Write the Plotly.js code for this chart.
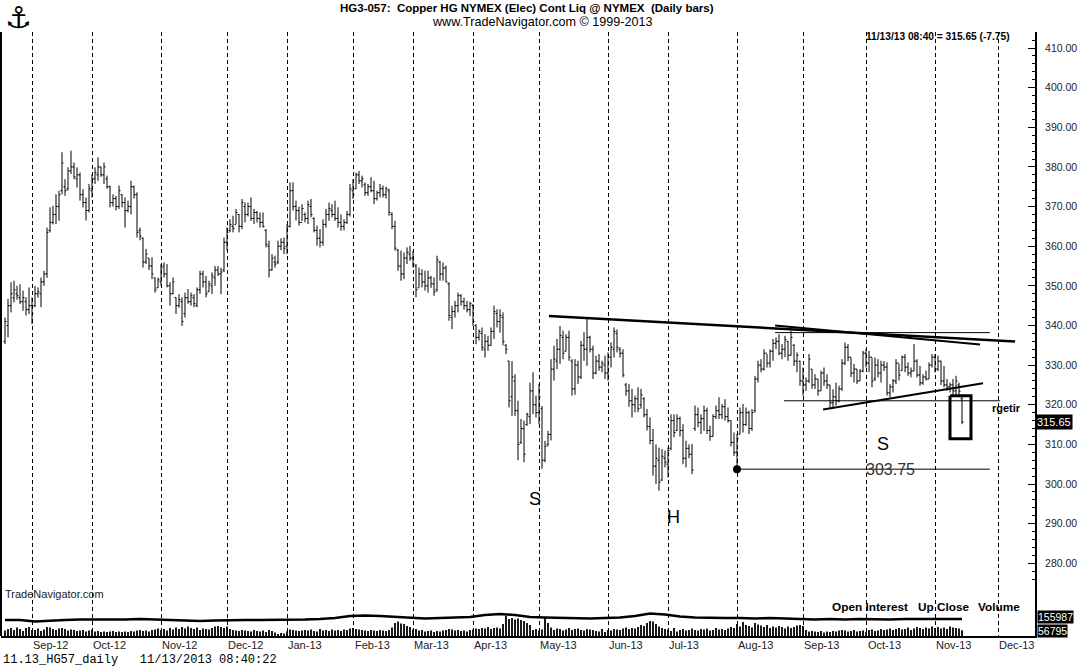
<!DOCTYPE html>
<html>
<head>
<meta charset="utf-8">
<script src="https://cdn.plot.ly/plotly-3.0.1.min.js"></script>
<style>html,body{margin:0;padding:0;background:#fff;}#chart{width:1084px;height:667px;}</style>
</head>
<body>
<div id="chart"></div>
<script>
// ---- Daily OHLC bars (trading-day order, Aug 20 2012 .. Nov 13 2013) ----
const openP = [
336,340,345,347,348,347,346,346,344,345,
345,348,348,351,353,364,366,368,370,374,
375,374.5,379,380,377,378,373,371,369,374,
377,378,380,378,377,375,371,372,370,373,
371,369,370,375,373,364,362,356,357,355,
352,349.5,351,355,353,350,348,347,345,346,
343,347,346,347,345,349,353,351,348.5,350,
352,354,353,354,361,364,365,365.5,368,365,
370,368,370,367,368.5,367,366,364,360,354,
356,356,360,361,360,365,374,370,369,366,
368,367,370,367,364,362,361,365.5,368,369,
368,367,366,365,366,368,374,374.5,378,376.5,
375.5,373.5,375,374,372,373.5,374.5,373,374,368,
365,359,355,353,357,358,357,355,349.5,353,
351,350,352,350.5,349,356,353,354.5,350.5,342,
343.5,345,347.5,346,345,344,345,340,337,338,
334,336,335,338.5,343,341,342,335,331,322,
326,318.5,310.5,314,315,317,323.5,320,318,319,
306,310,312.5,329,331,334,337,333.5,337,331,
324,330,327,335,334,337,334,328,331,329.5,
330,328,332,334,338,334,333,325,323.5,321,
320,321.5,320,321.5,317.5,314.5,311,304.5,306,301,
306.5,305,309,316,313.5,316.5,313.5,306.5,309,307.5,
314,317.5,315.5,316.5,318.5,313.5,312,317,318.5,317.5,
319.5,317,316,310.5,308,312.6,318,315,318,314,
318.5,326.5,330,329,333,330.5,333.5,335.5,336,333,
334,336,332.5,335,331,331,326,325,326,329,
325,326.5,323.5,328,326,325,320.5,322,321,324,
330.5,334.5,332,328,329,326,328.5,333,330.5,332,
326.5,330,328,330,329.5,323,324.5,326,330.5,328.6,
332,329.5,328,328.5,331,327.5,325.5,327,326.5,330,
332,329,331,326,325,324.5,325,323.5,325,321.5];
const highP = [
342,346.7,350.9,351.3,350,350.4,348.8,347.1,349.6,347.1,
350,349.6,352.1,353.8,364.7,369.8,370.2,373.1,374,383.7,
376.9,379.9,384.1,381.1,379.9,378.6,374.4,372.3,375.7,378.2,
379.9,382.4,380,381.1,377.8,375.3,373.1,372.7,375.3,373.1,
372.3,371.5,376.5,375.3,373.6,364.7,362.2,359.3,357,357.2,
352.1,352.1,355.5,355.9,355.5,350.9,352.1,347.1,347.9,347.1,
348.3,349.2,348.3,347.9,349.6,353.8,353.8,352.5,351.3,353.4,
355,355,354.6,362.2,364.7,366.8,367.7,369.4,368.1,371.9,
371,371,372.3,369.4,368.9,368.5,368.5,364.3,361.4,358,
357.6,361.4,362,362.2,365.5,376.1,376.1,371.5,370,370.6,
368.5,371.5,371.9,367.3,365.2,364.3,366.8,369.4,371,370.6,
371.5,369.8,368,366.8,368.9,375.7,376.9,378.6,379,377.8,
376.1,375.7,377.4,376.5,374,375.7,375.3,375,374.5,368.5,
366.4,359.3,358.9,358.4,359.7,360.1,358.9,355.5,354.6,354.2,
353.8,353.8,352.5,352.1,357.6,356.3,355.9,355.1,350.9,345,
346.2,348.3,347.9,347,346.2,346,345.4,340.3,339,339.5,
337.8,337.4,339.5,345,344.1,344.1,343.3,335.3,331.1,331,
327.7,321,316.4,316,318,325.6,328.2,322.3,325.2,319.7,
310.9,313.4,331.5,334.9,336.6,339.9,338.7,337.8,338.7,331.5,
331.5,331.1,336.1,338.3,342,337.4,334.9,332.4,332.8,331.1,
332.4,333.2,335.7,339.5,339,334.5,334,325.5,325.2,324,
322.3,324.4,324,321.9,318.9,316.8,313.9,310,309.2,308.8,
308.4,309.2,317.6,317.6,317.6,317,315.1,310.9,310,310.1,
319.8,319.3,317.6,319.8,319.3,314.7,317.6,319.8,321.9,320.2,
321.4,319.3,316,313,312.6,319.3,320.2,319.3,318.5,318.9,
327.3,331.1,331.5,334,332.8,334,336.6,337,337.8,335.3,
337.4,336.1,338.7,335.3,333.2,331.1,329.4,326.9,332.8,329,
327.7,326.5,328.6,329.4,327.7,325,323.9,325.6,324.8,331.5,
335.7,335.3,331.9,330.3,329,329,333.6,334,333.6,331.9,
331.9,331.5,331.1,331,330.7,325.2,326.5,331.5,330.3,332.4,
332.8,330.7,329.4,335.3,331.5,329.8,327.7,328.6,330.7,332.8,
332.8,332.4,331.1,329.8,326.5,325.6,326.5,327.3,325.6,322];
const lowP = [
335.3,337,343.3,345.8,346.5,345.4,343.7,342.5,342.9,340.3,
344.6,347,344.6,350,352,363.5,365.5,365.6,366.4,373.1,
372.7,374,378.2,376.9,374.8,371.5,369.8,366.5,368.5,372.3,
375.7,376.5,377.5,375.7,374.5,369.8,370,369,369.4,369.8,
364.7,368.5,368,372,362.2,361.5,354.6,355.5,354,351.7,
348.3,349.5,350,352.1,349.6,345,347.9,342.9,344.5,339.9,
342,345.5,345,344.6,344.6,348,349.6,347.1,348.5,347.9,
350,352.5,347.9,353.5,358.9,363.5,363.5,365.6,363.5,364.3,
366,367.5,366.4,365.6,366,364.7,364.7,359.7,352.1,353.8,
354.6,355.5,359,358,358,364.7,369,366.5,365.2,366.4,
366,365.6,367.3,363.5,360.1,359.7,360.1,364.7,366.4,367.3,
366.4,364.7,363.9,364,365.6,367.5,371.9,374.4,375.7,374.8,
372.7,372.7,373.6,370.6,371.5,372.3,372.3,372,367.7,364.3,
358.9,353.8,351.3,351.7,355.5,356.3,354.6,347.1,349.6,349.6,
348.8,348.3,349.5,347.5,348.5,351.3,351.3,350.9,341.2,339.1,
342,343.3,345,344,343.3,342.4,339.9,335.3,336.2,333.6,
331.9,333.6,334.9,336.6,339.5,338.2,335,332.8,319.3,317.2,
317.2,306,310.1,305.5,314.7,315.1,317.6,316.8,315.1,303.8,
305.5,309.5,311,326.1,329,330.3,331.5,333.5,331.1,322.3,
322.5,325.2,326.5,331.1,329.8,333.2,326.5,327.7,328.6,328.2,
326.5,326.1,329.4,331.9,333.2,331.9,326.9,322.3,319.5,316.8,
318.1,318.1,319,316.8,313.5,310,302.1,300,298.3,300.8,
304.2,301.7,308.5,311.8,313.4,312,305,304.2,306.5,302.5,
313.4,314.3,312.6,313.4,312.6,310.9,312,316.4,316.4,316.4,
316,315.5,309.5,307.1,303.75,312.6,313,314.7,312.6,313.4,
318,325.6,328.2,328.6,329.4,329.4,331.1,334,332.5,331.5,
332,331.1,332.4,329.8,328.2,324.8,322.3,323.5,325.5,324,
324,322.3,323.5,324.8,324,319.3,319.3,319.8,320.6,323.5,
330,331,327,325.6,325.2,326,328.2,329.4,328.2,324.4,
326,326.9,325.6,328.5,322.3,321.9,323.1,325.2,326.1,328.6,
328.2,327.3,326.9,328.5,326.9,324.8,325,326.1,326.5,329.4,
328.2,328.5,325,324.4,323.5,323.1,322.3,322,321.9,315.1];
const closeP = [
341,345,348,349,347.5,346,347,344,345,343,
348,348.5,351,353,363.5,366,368,370,373,381,
374,379,380,377.5,378,373,371,369,374.5,377,
378.5,380,378,380,375,371,372,370,374,371,
369,370,375,373,363.5,362.5,356,358,355,353,
349,351.5,354.5,353,350,348,351,345,346.5,341,
347,346,347.5,345.5,349,353,351,348,350.5,352.5,
354,353,353.5,361,363.5,365.5,364.5,368.5,365,371,
368,370,367,368.5,367,366,365,360.5,354,357,
355.5,360,361,359.5,365,374,370,369,366,369.5,
367,370.5,368,364,362,361,365.5,368,369.5,368,
367,366,365,366,368,374.5,373,378,376.5,377,
373.5,375,374,372,373.5,374.5,373,374.5,368.5,365,
359.5,355,353,357,358.5,357,355.5,349,353,351,
350,352,350.5,348.5,356.5,353,354.5,351,342.5,343.5,
345,347.5,346,345,344,345.5,341,337,338.5,334.5,
336,335,338.5,343.5,341,342.5,336,334,321,327,
318.5,310,314,307.5,317.5,323.5,320,318,322,306,
309.5,312.5,329,331.5,334,337.5,333,337,332,324,
330,327,335,334,337,334,328,331,329.5,330.5,
328,332,334.5,338.5,334.5,333,327.5,323.5,321,320,
321.5,319,322.5,317.5,314.5,311,304.5,306.5,300.5,307,
305.5,308.5,316,313,316.5,313.5,306.5,309,307.5,303.5,
317.5,315.5,316.5,318.5,313.5,312,317,318.5,317.5,319.5,
317,316,310.5,308,311.5,318,315,318,314,318,
326.5,330,329,333,330.5,333.5,335.5,336,333,334,
336.5,332.5,337,331,332.5,326,325,326,331.5,325,
326.5,323.5,328,326,325,320.5,322,321,324,330.5,
334.5,332,328,329,326,328.5,333,330.5,332,326,
330,328,330,329.5,323,324.5,326,330.5,327.5,332,
329.5,328,328.5,331,327.5,325.5,327,326.5,330,332,
329,331,326,325,324.5,325,323.5,326,323.4,315.65];
// volume, thousands of contracts
const volumeK = [
55,70,80,60,85,70,50,80,90,60,
60,75,50,65,90,85,70,60,75,80,
70,55,65,60,50,55,60,45,55,65,
45,50,40,45,40,45,50,40,45,40,
45,40,50,45,55,60,50,55,45,60,
65,75,60,70,55,80,65,85,70,90,
75,95,80,70,85,60,75,70,65,80,
95,100,90,80,95,70,60,55,50,60,
55,50,45,60,50,45,55,40,60,50,
35,20,30,25,45,65,60,55,50,55,
60,55,65,50,45,70,55,60,50,65,
55,60,50,65,60,75,80,70,65,60,
55,50,60,55,50,60,55,50,60,85,
130,145,125,120,100,90,65,70,55,60,
45,50,55,40,50,45,55,60,70,65,
55,60,50,55,45,60,65,75,70,80,
75,90,70,80,85,75,120,200,170,180,
165,175,160,150,130,110,60,70,55,65,
180,130,85,60,75,70,55,65,80,60,
70,75,60,55,70,65,60,50,45,70,
40,60,55,70,65,60,75,85,70,80,
75,90,110,100,130,150,145,120,95,80,
70,65,50,80,45,60,70,55,60,75,
60,55,70,65,75,55,60,80,65,70,
60,75,90,80,120,95,140,110,100,85,
130,115,105,90,110,80,95,85,100,90,
75,95,80,90,105,110,100,60,45,50,
45,40,50,35,45,40,50,45,55,60,
55,45,50,60,45,50,55,40,60,65,
50,55,70,60,65,75,60,70,80,65,
70,85,60,75,90,80,70,85,75,95,
80,90,75,85,70,95,85,80,75,56.795];
// open interest, read every 5th bar (last = final bar)
const oiBar = [0,5,10,15,20,25,30,35,40,45,50,55,60,65,70,75,80,85,90,95,100,105,110,115,120,125,130,135,140,145,150,155,160,165,170,175,180,185,190,195,200,205,210,215,220,225,230,235,240,245,250,255,260,265,270,275,280,285,290,295,300,305,310,315,319];
const openInterest = [154000,154000,151000,153000,154000,155000,155000,154000,155000,156000,155000,154000,153000,152000,153000,154000,154000,154000,154000,155000,155000,156000,158000,162000,163000,162000,160000,158000,157000,158000,159000,160000,164000,166000,164000,160000,159000,158000,157000,157000,158000,159000,162000,167000,165000,161000,159000,158000,158000,158000,157000,158000,157000,156000,155000,156000,155000,156000,155000,155000,156000,156000,155000,155000,155987];
// month boundaries (bar position) and labels
const monthPos = [9,29,52,74,94,116.3,136,156,178,201,221,244,266,287.3,310,331];
const monthLabels = ['Sep-12','Oct-12','Nov-12','Dec-12','Jan-13','Feb-13','Mar-13','Apr-13','May-13','Jun-13','Jul-13','Aug-13','Sep-13','Oct-13','Nov-13','Dec-13'];
// price axis labels
const priceTicks = [280,290,300,310,320,330,340,350,360,370,380,390,400,410];
// analyst drawings (bar position, price)
const topLineA = {x:[181.3,336.7], y:[342.4,335.96]};
const topLineB = {x:[256.7,325], y:[340.0,335.2]};
const topFlat = {x:[256.7,328.3], y:[338.2,338.2]};
const risingLine = {x:[272.7,326], y:[318.8,325.4]};
const neckLine = {x:[259.7,331.7], y:[321,321]};
const lowLine = {x:[244,328.3], y:[303.75,303.75]};
const lowDot = {x:[244], y:[303.75]};
const boxX = [315,322], boxY = [311.4,322.3];
const patternLabels = [
  {t:'S', x:176.7, y:296.3},
  {t:'H', x:222.7, y:291.75},
  {t:'S', x:292.7, y:310.2}
];
const lastPrice = 315.65, lastChange = -7.75;

const xs = closeP.map((_, i) => i);
const BLK = '#000';

const traces = [];
traces.push({type:'ohlc', x:xs, open:openP, high:highP, low:lowP, close:closeP,
  increasing:{line:{color:BLK, width:1}}, decreasing:{line:{color:BLK, width:1}},
  tickwidth:0.5, hoverinfo:'skip', xaxis:'x', yaxis:'y'});
traces.push({type:'bar', x:xs, y:volumeK, width:0.6, marker:{color:BLK, line:{width:0}},
  xaxis:'x', yaxis:'y2', hoverinfo:'skip'});
traces.push({type:'scatter', mode:'lines', x:oiBar, y:openInterest, line:{color:BLK, width:2.5},
  xaxis:'x', yaxis:'y3', hoverinfo:'skip'});
function seg(o, w){ traces.push({type:'scatter', mode:'lines', x:o.x, y:o.y, line:{color:BLK, width:w}, xaxis:'x', yaxis:'y', hoverinfo:'skip', cliponaxis:false}); }
seg(topLineA, 2.5);
seg(topLineB, 2);
seg(topFlat, 1);
seg(risingLine, 2);
seg(neckLine, 1);
seg(lowLine, 1);
traces.push({type:'scatter', mode:'lines', x:[boxX[0],boxX[1],boxX[1],boxX[0],boxX[0]], y:[boxY[1],boxY[1],boxY[0],boxY[0],boxY[1]],
  line:{color:BLK, width:3}, xaxis:'x', yaxis:'y', hoverinfo:'skip'});
traces.push({type:'scatter', mode:'markers', x:lowDot.x, y:lowDot.y, marker:{color:BLK, size:8}, xaxis:'x', yaxis:'y', hoverinfo:'skip'});

const FONT = 'Liberation Sans, Arial, sans-serif';
const PW = 1034, PH = 604; // plot area px
const px2x = p => (p - 1) / PW;
const py2y = p => (636 - p) / PH;

const ann = [];
monthPos.forEach((m, k) => ann.push({xref:'x', yref:'paper', x:m, y:py2y(645), xanchor:'left', yanchor:'middle',
  text:monthLabels[k], showarrow:false, font:{family:FONT, size:11, color:'#222'}, xshift:-1}));
ann.push({xref:'paper', yref:'paper', x:px2x(527), y:py2y(8), text:'<b>HG3-057:  Copper HG NYMEX (Elec) Cont Liq @ NYMEX  (Daily bars)</b>',
  showarrow:false, xanchor:'center', yanchor:'middle', font:{family:FONT, size:11.5, color:BLK}});
ann.push({xref:'paper', yref:'paper', x:px2x(542), y:py2y(22), text:'www.TradeNavigator.com © 1999-2013',
  showarrow:false, xanchor:'center', yanchor:'middle', font:{family:FONT, size:12.6, color:BLK}});
ann.push({xref:'paper', yref:'paper', x:px2x(864), y:py2y(37), text:'<b>11/13/13 08:40 = ' + lastPrice.toFixed(2) + ' (' + lastChange.toFixed(2) + ')</b>',
  showarrow:false, xanchor:'left', yanchor:'middle', font:{family:FONT, size:10.2, color:BLK}});
ann.push({xref:'paper', yref:'paper', x:px2x(18), y:py2y(17), text:'\u2693', showarrow:false, xanchor:'center', yanchor:'middle',
  font:{family:'DejaVu Sans', size:30, color:BLK}});
ann.push({xref:'paper', yref:'paper', x:px2x(3), y:py2y(594), text:'TradeNavigator.com', showarrow:false, xanchor:'left', yanchor:'middle',
  font:{family:FONT, size:11, color:'#222'}});
[['Open Interest',830],['Up Close',916],['Volume',976]].forEach(l => ann.push({xref:'paper', yref:'paper', x:px2x(l[1]), y:py2y(607),
  text:'<b>'+l[0]+'</b>', showarrow:false, xanchor:'left', yanchor:'middle', font:{family:FONT, size:11.8, color:BLK}}));
ann.push({xref:'paper', yref:'paper', x:px2x(1), y:py2y(660), text:'11.13_HG57_daily   11/13/2013 08:40:22', showarrow:false,
  xanchor:'left', yanchor:'middle', font:{family:'Liberation Mono, Courier New, monospace', size:12, color:BLK}});
patternLabels.forEach(p => ann.push({xref:'x', yref:'y', x:p.x, y:p.y, text:p.t, showarrow:false, xanchor:'center', yanchor:'middle',
  font:{family:FONT, size:18, color:BLK}}));
ann.push({xref:'x', yref:'y', x:295, y:303.6, text:'303.75', showarrow:false, xanchor:'center', yanchor:'middle',
  font:{family:FONT, size:16, color:'#333'}});
ann.push({xref:'x', yref:'y', x:328.3, y:319.25, text:'<b>rgetir</b>', showarrow:false, xanchor:'left', yanchor:'middle',
  font:{family:FONT, size:11, color:BLK}});
ann.push({xref:'paper', yref:'y', x:1, y:lastPrice, text:lastPrice.toFixed(2), showarrow:false, xanchor:'left', yanchor:'middle',
  bgcolor:BLK, borderpad:1, font:{family:FONT, size:11, color:'#fff'}});
ann.push({xref:'paper', yref:'y3', x:1, y:openInterest[openInterest.length-1], text:String(openInterest[openInterest.length-1]), showarrow:false,
  xanchor:'left', yanchor:'middle', bgcolor:BLK, borderpad:0, xshift:2, yshift:2, font:{family:FONT, size:10.5, color:'#fff'}});
ann.push({xref:'paper', yref:'y2', x:1, y:volumeK[volumeK.length-1], text:String(Math.round(volumeK[volumeK.length-1]*1000)), showarrow:false,
  xanchor:'left', yanchor:'middle', bgcolor:BLK, borderpad:0, xshift:2, yshift:-1, font:{family:FONT, size:10.5, color:'#fff'}});

const layout = {
  width:1084, height:667,
  margin:{l:1, r:49, t:32, b:31, pad:0},
  paper_bgcolor:'#fff', plot_bgcolor:'#fff',
  showlegend:false,
  font:{family:FONT, color:BLK},
  xaxis:{range:[-1.333, 343.333], tickvals:monthPos, showticklabels:false, ticks:'', showgrid:true,
    gridcolor:BLK, griddash:'4px,3px', gridwidth:1, showline:true, linecolor:BLK, linewidth:2, zeroline:false,
    rangeslider:{visible:false}, fixedrange:true},
  yaxis:{side:'right', range:[261.66, 414.04], tickmode:'array', tickvals:priceTicks, tickformat:'.2f', ticks:'inside', ticklen:7, tickwidth:1,
    tickcolor:BLK, minor:{tickmode:'linear', tick0:0, dtick:2, ticks:'inside', ticklen:3, tickcolor:BLK, tickwidth:1, showgrid:false},
    showgrid:false, zeroline:false, showline:true, linecolor:BLK, linewidth:2, mirror:false,
    tickfont:{family:FONT, size:10.5, color:'#222'}, ticklabelstandoff:6, fixedrange:true},
  yaxis2:{domain:[0, 50/604], range:[0, 500], visible:false, fixedrange:true},
  yaxis3:{domain:[0, 50/604], range:[122000, 222000], visible:false, overlaying:'y2', fixedrange:true},
  shapes:[{type:'line', xref:'paper', yref:'paper', x0:0, x1:0, y0:0, y1:1, line:{color:BLK, width:2}}],
  annotations:ann
};
Plotly.newPlot('chart', traces, layout, {displayModeBar:false, staticPlot:true});
</script>
</body>
</html>
